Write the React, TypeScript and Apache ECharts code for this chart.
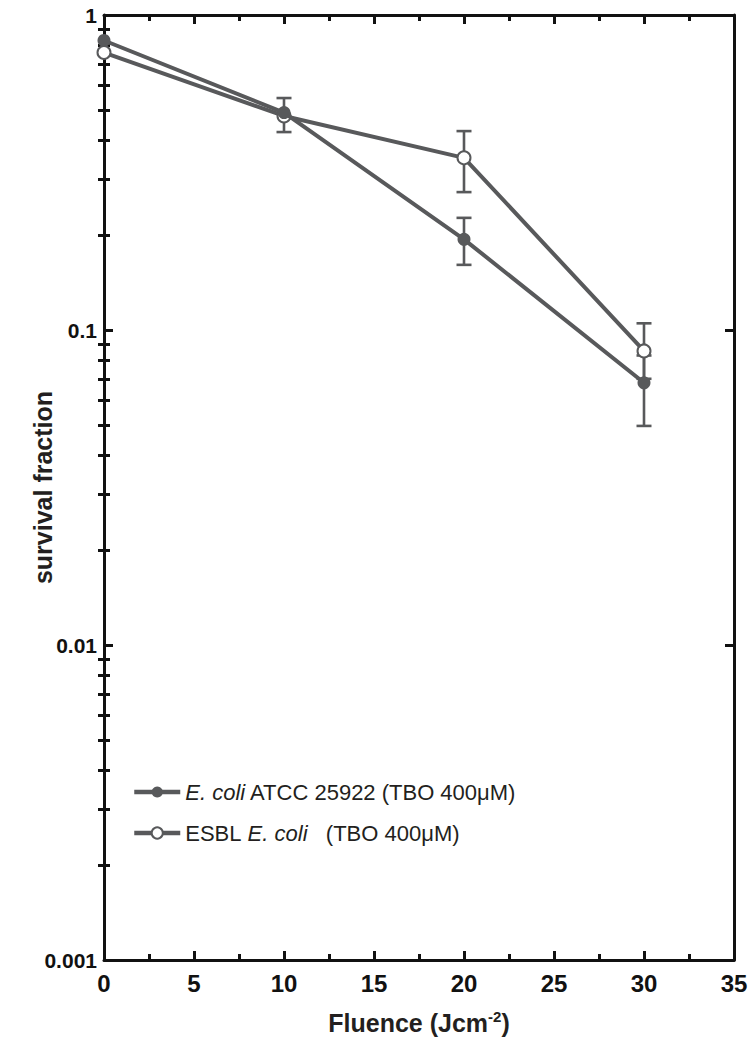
import React, { useEffect, useRef } from 'react';
import * as echarts from 'echarts';

// ---- data ----
const fluence = [0, 10, 20, 30];

const atccName = 'E. coli ATCC 25922 (TBO 400μM)';
const atccMean = [0.83, 0.49, 0.194, 0.068];
const atccLow = [0.83, 0.49, 0.161, 0.0496];
const atccHigh = [0.83, 0.545, 0.227, 0.083];

const esblName = 'ESBL E. coli   (TBO 400μM)';
const esblMean = [0.76, 0.478, 0.352, 0.0858];
const esblLow = [0.76, 0.425, 0.274, 0.07];
const esblHigh = [0.76, 0.478, 0.428, 0.105];

const xMin = 0;
const xMax = 35;
const xInterval = 5;

const yTickValues = [0.001, 0.01, 0.1, 1];
const yTickLabels = ['0.001', '0.01', '0.1', '1'];
const yMinorMultipliers = [2, 3, 4, 5, 6, 7, 8, 9];
const yMinorTicks: number[] = [];
yTickValues.slice(0, -1).forEach((d) => yMinorMultipliers.forEach((m) => yMinorTicks.push(+(d * m).toPrecision(3))));

const GRAY = '#58595b';
const BLACK = '#111111';
const SANS = "'Liberation Sans', Arial, sans-serif";

function makeErrData(mean: number[], low: number[], high: number[]) {
  return fluence.map((x, i) => [x, mean[i], low[i], high[i]]);
}

function errRender(params: any, api: any) {
  const x = api.value(0);
  const m = api.value(1);
  const lo = api.value(2);
  const hi = api.value(3);
  if (!(hi > lo)) return { type: 'group', children: [] };
  const pLo = api.coord([x, lo]);
  const pHi = api.coord([x, hi]);
  const cw = 7.5;
  const st = { stroke: GRAY, lineWidth: 2.6 };
  const children: any[] = [
    { type: 'line', shape: { x1: pLo[0], y1: pLo[1], x2: pHi[0], y2: pHi[1] }, style: st },
  ];
  if (lo < m) children.push({ type: 'line', shape: { x1: pLo[0] - cw, y1: pLo[1], x2: pLo[0] + cw, y2: pLo[1] }, style: st });
  if (hi > m) children.push({ type: 'line', shape: { x1: pHi[0] - cw, y1: pHi[1], x2: pHi[0] + cw, y2: pHi[1] }, style: st });
  return { type: 'group', children };
}

function yLabel(v: number) {
  const i = yTickValues.findIndex((t) => Math.abs(Math.log10(t) - Math.log10(v)) < 1e-6);
  return i >= 0 ? yTickLabels[i] : '';
}

export default function App() {
  const ref = useRef<HTMLDivElement>(null);
  useEffect(() => {
    if (!ref.current) return;
    const chart = echarts.init(ref.current, undefined, { renderer: 'svg' });
    const axisLine = { show: true, onZero: false, lineStyle: { color: BLACK, width: 3 } };
    const majorTick = { show: true, inside: true, length: 9, lineStyle: { color: BLACK, width: 3 } };
    const xBase = {
      type: 'value',
      min: xMin,
      max: xMax,
      interval: xInterval,
      axisLine,
      axisTick: majorTick,
      minorTick: { show: true, splitNumber: 2, length: 6, lineStyle: { color: BLACK, width: 3 } },
      splitLine: { show: false },
      minorSplitLine: { show: false },
    };
    const yBase = {
      type: 'log',
      logBase: 10,
      min: 0.001,
      max: 1,
      splitLine: { show: false },
    };
    chart.setOption({
      animation: false,
      backgroundColor: '#ffffff',
      grid: { left: 104, right: 17, top: 15, bottom: 90, containLabel: false },
      legend: {
        orient: 'vertical',
        left: 127,
        top: 774,
        itemWidth: 46,
        itemHeight: 14,
        itemGap: 15,
        data: [atccName, esblName],
        lineStyle: { width: 4.5 },
        formatter: (name: string) =>
          name === atccName ? '{i|E. coli} ATCC 25922 (TBO 400μM)' : 'ESBL {i|E. coli}   (TBO 400μM)',
        textStyle: {
          fontSize: 22,
          fontFamily: SANS,
          color: '#231f20',
          lineHeight: 26,
          rich: { i: { fontStyle: 'italic', fontSize: 22, fontFamily: SANS, color: '#231f20' } },
        },
      },
      xAxis: [
        {
          ...xBase,
          position: 'bottom',
          axisLabel: { fontSize: 24, fontWeight: 'bold', fontFamily: SANS, color: BLACK, margin: 11 },
          name: '{a|Fluence (Jcm}{s|-2}{a|)}',
          nameLocation: 'middle',
          nameGap: 49,
          nameMoveOverlap: false,
          nameTextStyle: {
            rich: {
              a: { fontSize: 25, fontWeight: 'bold', fontFamily: SANS, color: '#231f20' },
              s: { fontSize: 15, fontWeight: 'bold', fontFamily: SANS, color: '#231f20', verticalAlign: 'top', padding: [0, 0, 12, 0] },
            },
          },
        },
        { ...xBase, position: 'top', axisLabel: { show: false } },
      ],
      yAxis: [
        {
          ...yBase,
          position: 'left',
          axisLine,
          axisTick: majorTick,
          axisLabel: { fontSize: 21, fontWeight: 'bold', fontFamily: SANS, color: BLACK, margin: 7, formatter: yLabel },
          name: 'survival fraction',
          nameLocation: 'middle',
          nameGap: 49,
          nameMoveOverlap: false,
          nameTextStyle: { fontSize: 25, fontWeight: 'bold', fontFamily: SANS, color: '#231f20' },
        },
        { ...yBase, position: 'right', axisLine, axisTick: majorTick, axisLabel: { show: false } },
        {
          ...yBase,
          position: 'left',
          axisLine: { show: false },
          axisTick: { show: true, inside: true, length: 6, customValues: yMinorTicks, lineStyle: { color: BLACK, width: 3 } },
          axisLabel: { show: false },
        },
        {
          ...yBase,
          position: 'right',
          axisLine: { show: false },
          axisTick: { show: true, inside: true, length: 6, customValues: yMinorTicks, lineStyle: { color: BLACK, width: 3 } },
          axisLabel: { show: false },
        },
      ],
      series: [
        {
          type: 'custom',
          name: 'atccErr',
          renderItem: errRender,
          data: makeErrData(atccMean, atccLow, atccHigh),
          encode: { x: 0, y: 1 },
          z: 1,
          silent: true,
        },
        {
          type: 'custom',
          name: 'esblErr',
          renderItem: errRender,
          data: makeErrData(esblMean, esblLow, esblHigh),
          encode: { x: 0, y: 1 },
          z: 1,
          silent: true,
        },
        {
          type: 'line',
          name: esblName,
          data: fluence.map((x, i) => [x, esblMean[i]]),
          symbol: 'emptyCircle',
          symbolSize: 13,
          lineStyle: { color: GRAY, width: 4 },
          itemStyle: { color: GRAY, borderColor: GRAY, borderWidth: 2.6 },
          z: 2,
        },
        {
          type: 'line',
          name: atccName,
          data: fluence.map((x, i) => [x, atccMean[i]]),
          symbol: 'circle',
          symbolSize: 13,
          lineStyle: { color: GRAY, width: 4 },
          itemStyle: { color: GRAY },
          z: 3,
        },
      ],
    });
    return () => chart.dispose();
  }, []);
  return <div ref={ref} style={{ position: 'absolute', left: 0, top: 0, width: 751, height: 1050 }} />;
}
